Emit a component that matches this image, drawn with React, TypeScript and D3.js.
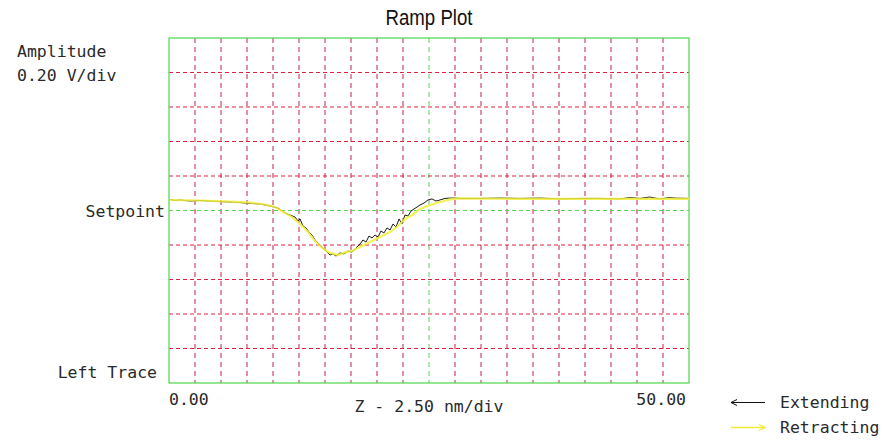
import React from "react";
import * as d3 from "d3";

// Z position in nm (0..50, 2.50 nm/div), amplitude in V relative to setpoint (0.20 V/div)
const extendZ = [0.10,0.58,1.06,2.02,2.98,3.94,4.90,5.87,6.83,7.79,8.75,9.23,9.71,10.48,11.15,11.63,12.12,12.40,12.60,12.88,13.17,13.46,13.75,14.04,14.33,14.62,14.90,15.19,15.48,15.77,16.06,16.44,16.83,17.21,17.60,17.98,18.37,18.65,18.94,19.23,19.52,19.81,20.10,20.38,20.67,20.96,21.25,21.54,21.83,22.12,22.40,22.69,22.98,23.27,23.56,23.85,24.13,24.52,24.90,25.29,25.67,26.06,26.54,27.02,27.50,27.98,29.90,31.83,33.75,35.67,37.60,39.52,41.44,43.37,44.3,45.29,46.2,47.21,48.1,48.65,49.90];
const extendA = [0.064,0.058,0.061,0.055,0.058,0.055,0.052,0.049,0.046,0.041,0.038,0.032,0.026,0.014,-0.014,-0.026,-0.038,-0.061,-0.049,-0.090,-0.101,-0.125,-0.142,-0.171,-0.188,-0.206,-0.223,-0.241,-0.258,-0.252,-0.264,-0.246,-0.252,-0.235,-0.241,-0.217,-0.194,-0.171,-0.183,-0.148,-0.159,-0.142,-0.154,-0.119,-0.130,-0.101,-0.113,-0.078,-0.096,-0.049,-0.078,-0.026,-0.032,-0.003,0.009,0.020,0.032,0.043,0.061,0.067,0.055,0.061,0.070,0.072,0.072,0.070,0.070,0.072,0.070,0.072,0.067,0.070,0.070,0.067,0.075,0.070,0.078,0.067,0.075,0.072,0.070];
const retractZ = [0.10,2.98,5.87,7.79,9.23,10.19,11.15,11.83,12.60,13.37,14.04,14.71,15.48,16.25,16.92,17.60,18.37,19.33,20.29,21.25,22.02,22.69,23.37,24.13,25.10,26.06,27.02,27.98,31.83,41.44,50.0];
const retractA = [0.061,0.058,0.052,0.046,0.035,0.020,-0.014,-0.038,-0.078,-0.125,-0.177,-0.217,-0.246,-0.258,-0.243,-0.235,-0.212,-0.183,-0.154,-0.125,-0.090,-0.049,-0.026,0.009,0.032,0.049,0.064,0.070,0.068,0.067,0.067];

const zTicks = d3.range(0, 50.001, 2.5);
const aTicks = d3.range(-1, 1.0001, 0.2);
const title = "Ramp Plot";
const yLabel1 = "Amplitude";
const yLabel2 = "0.20 V/div";
const midLabel = "Setpoint";
const bottomLabel = "Left Trace";
const xLabel = "Z - 2.50 nm/div";
const xMin = "0.00";
const xMax = "50.00";
const legend1 = "Extending";
const legend2 = "Retracting";

export default function App() {
  const L = 169, R = 689, T = 38, B = 383;
  const x = d3.scaleLinear().domain([0, 50]).range([L, R]);
  const y = d3.scaleLinear().domain([-1, 1]).range([B, T]);
  const line = d3.line<[number, number]>().x(d => x(d[0])).y(d => y(d[1]));
  const ext = line(extendZ.map((z, i) => [z, extendA[i]]) as [number, number][]) || "";
  const ret = line(retractZ.map((z, i) => [z, retractA[i]]) as [number, number][]) || "";
  const mono = "'DejaVu Sans Mono', monospace";
  const txt = "#2a2a2a";
  return (
    <svg width={894} height={441} style={{ position: "absolute", left: 0, top: 0, background: "#fff" }}>
      <rect x={0} y={0} width={894} height={441} fill="#fff" />
      <text x={429} y={25} textAnchor="middle" fontFamily="'Liberation Sans', Arial, sans-serif" fontSize={22} textLength={87} lengthAdjust="spacingAndGlyphs" fill="#111">{title}</text>
      {zTicks.slice(1, -1).map((t, i) => {
        const center = Math.abs(t - 25) < 1e-6;
        return <line key={"v" + i} x1={x(t)} x2={x(t)} y1={T} y2={B} stroke={center ? "#55d455" : "#c42048"} strokeWidth={1} strokeDasharray="5,4" />;
      })}
      {aTicks.slice(1, -1).map((t, i) => {
        const center = Math.abs(t) < 1e-6;
        return <line key={"h" + i} x1={L} x2={R} y1={y(t)} y2={y(t)} stroke={center ? "#55d455" : "#dc2040"} strokeWidth={1} strokeDasharray="4,3" />;
      })}
      <rect x={L} y={T} width={R - L} height={B - T} fill="none" stroke="#4cd84c" strokeWidth={1.2} />
      <path d={ext} fill="none" stroke="#1a1a1a" strokeWidth={1} />
      <path d={ret} fill="none" stroke="#f2ee3a" strokeWidth={2.2} strokeOpacity={0.85} />
      <text x={17} y={57} fontFamily={mono} fontSize={16.5} fill={txt}>{yLabel1}</text>
      <text x={17} y={81} fontFamily={mono} fontSize={16.5} fill={txt}>{yLabel2}</text>
      <text x={165} y={y(0) + 6} textAnchor="end" fontFamily={mono} fontSize={16.5} fill={txt}>{midLabel}</text>
      <text x={157} y={378} textAnchor="end" fontFamily={mono} fontSize={16.5} fill={txt}>{bottomLabel}</text>
      <text x={x(0)} y={405} fontFamily={mono} fontSize={16.5} fill={txt}>{xMin}</text>
      <text x={x(50) - 3} y={405} textAnchor="end" fontFamily={mono} fontSize={16.5} fill={txt}>{xMax}</text>
      <text x={x(25)} y={412} textAnchor="middle" fontFamily={mono} fontSize={16.5} fill={txt}>{xLabel}</text>
      <g stroke="#111" strokeWidth={1} fill="none">
        <line x1={731} x2={765} y1={402.5} y2={402.5} />
        <polyline points="737,399.5 731,402.5 737,405.5" />
      </g>
      <g stroke="#f2ee3a" strokeWidth={1.3} fill="none">
        <line x1={731} x2={765} y1={427.5} y2={427.5} />
        <polyline points="759,424.5 765,427.5 759,430.5" />
      </g>
      <text x={780} y={408} fontFamily={mono} fontSize={16.5} fill={txt}>{legend1}</text>
      <text x={780} y={433} fontFamily={mono} fontSize={16.5} fill={txt}>{legend2}</text>
    </svg>
  );
}
